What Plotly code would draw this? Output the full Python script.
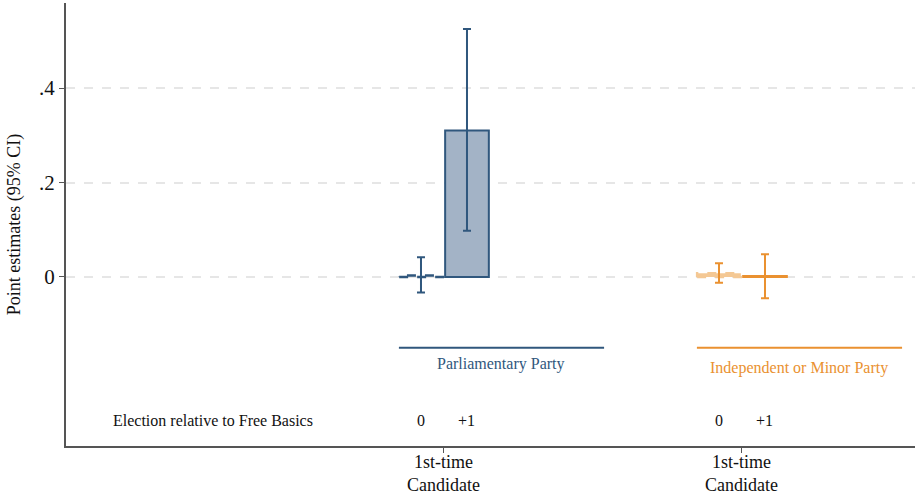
import plotly.graph_objects as go

# Point estimates by party type and election relative to Free Basics
groups = ["Parliamentary Party", "Independent or Minor Party"]
elections = ["0", "+1"]
est_parl = [0.003, 0.310]
lo_parl = [-0.033, 0.098]
hi_parl = [0.042, 0.525]
est_ind = [0.008, 0.002]
lo_ind = [-0.012, -0.045]
hi_ind = [0.029, 0.048]
category_label = "1st-time<br>Candidate"
row_label = "Election relative to Free Basics"

SERIF = "Liberation Serif, Times New Roman, serif"
BLUE = "#30577d"
BLUE_FILL = "#a3b3c6"
ORANGE = "#ea9130"
ORANGE_FILL = "#f4c894"
AXIS = "#555555"
TEXT = "#111111"

group_offset = [0.0, 6.478]
bar_w = 0.95
colors = [(BLUE, BLUE_FILL), (ORANGE, ORANGE_FILL)]
series = [(est_parl, lo_parl, hi_parl), (est_ind, lo_ind, hi_ind)]

fig = go.Figure()

for g, (off, (col, fill), (est, lo, hi)) in enumerate(zip(group_offset, colors, series)):
    xs = [off + i for i in range(len(elections))]
    # election "0": dashed outline bar
    x0 = xs[0]
    fig.add_trace(go.Scatter(
        x=[x0 - bar_w / 2, x0 + bar_w / 2, x0 + bar_w / 2, x0 - bar_w / 2, x0 - bar_w / 2],
        y=[0, 0, est[0], est[0], 0],
        mode="lines", fill="toself",
        fillcolor=fill if g == 1 else "rgba(0,0,0,0)",
        line=dict(color=col if g == 0 else ORANGE_FILL, width=2.5, dash="dash"),
        hoverinfo="skip", showlegend=False))
    # election "+1": solid bar
    fig.add_trace(go.Bar(
        x=[xs[1]], y=[est[1]], width=bar_w,
        marker=dict(color=fill if g == 0 else "rgba(0,0,0,0)",
                    line=dict(color=col, width=2)),
        showlegend=False, hoverinfo="skip"))
    # confidence intervals
    fig.add_trace(go.Scatter(
        x=xs, y=est, mode="markers",
        marker=dict(size=1, color="rgba(0,0,0,0)"),
        error_y=dict(type="data", symmetric=False,
                     array=[h - e for h, e in zip(hi, est)],
                     arrayminus=[e - l for e, l in zip(est, lo)],
                     color=col, thickness=2, width=4),
        showlegend=False, hoverinfo="skip"))
    # group bracket line and label
    fig.add_trace(go.Scatter(
        x=[off - 0.48, off + 3.98], y=[-0.15, -0.15], mode="lines",
        line=dict(color=col, width=2), showlegend=False, hoverinfo="skip"))
    fig.add_annotation(x=off + 1.75, y=-0.184 - 0.009 * g, text=groups[g],
                       showarrow=False, font=dict(family=SERIF, size=16, color=col))
    for x, lab in zip(xs, elections):
        fig.add_annotation(x=x, y=-0.303, text=lab, showarrow=False,
                           font=dict(family=SERIF, size=16, color=TEXT))
    # category label under the axis tick
    fig.add_annotation(x=off + 0.5, xref="x", yref="paper", y=-0.1129,
                       text=category_label, showarrow=False, yanchor="bottom",
                       borderpad=0, font=dict(family=SERIF, size=18, color=TEXT))

fig.add_annotation(x=-4.52, y=-0.303, text=row_label, showarrow=False,
                   font=dict(family=SERIF, size=16, color=TEXT))

fig.update_layout(
    width=915, height=496,
    margin=dict(l=66, r=0, t=3, b=50),
    paper_bgcolor="white", plot_bgcolor="white",
    barmode="overlay",
    xaxis=dict(range=[-7.717, 10.739], showgrid=False, zeroline=False,
               automargin=False,
               tickvals=[off + 0.5 for off in group_offset],
               ticktext=[""] * len(group_offset),
               ticks="outside", ticklen=5, tickcolor=AXIS, tickwidth=1,
               showline=True, linecolor=AXIS, linewidth=2),
    yaxis=dict(range=[-0.3577, 0.5799], zeroline=False, automargin=False,
               tickvals=[0, 0.2, 0.4], ticktext=["0", ".2", ".4"],
               showgrid=True, gridcolor="#e6e6e6", griddash="dash", gridwidth=1.5,
               ticks="outside", ticklen=5, tickcolor=AXIS, tickwidth=1,
               showline=True, linecolor=AXIS, linewidth=2,
               tickfont=dict(family=SERIF, size=21, color=TEXT),
               title=dict(text="Point estimates (95% CI)", standoff=14,
                          font=dict(family=SERIF, size=18, color=TEXT))),
)

fig.write_html("out.html")
